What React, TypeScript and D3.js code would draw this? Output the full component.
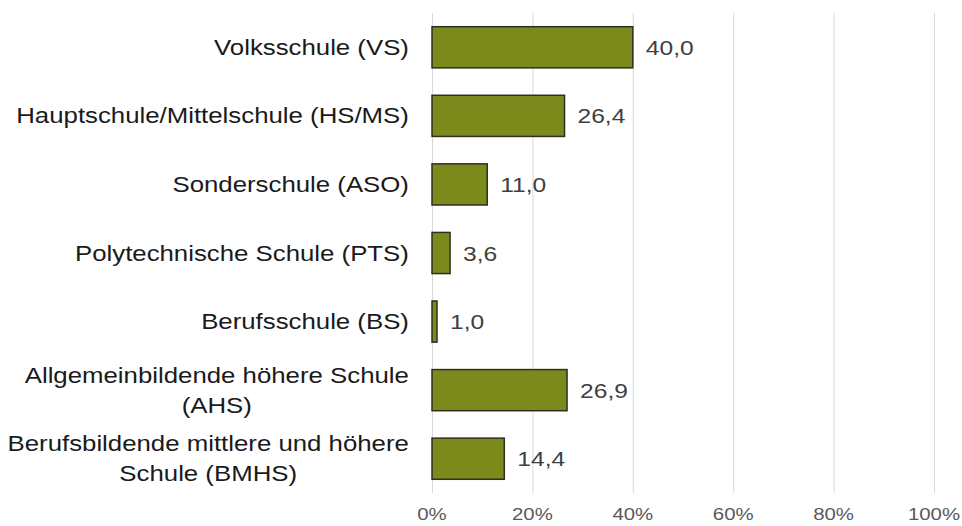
import React, { useEffect, useRef } from 'react';
import * as d3 from 'd3';

const categories: string[][] = [
  ['Volksschule (VS)'],
  ['Hauptschule/Mittelschule (HS/MS)'],
  ['Sonderschule (ASO)'],
  ['Polytechnische Schule (PTS)'],
  ['Berufsschule (BS)'],
  ['Allgemeinbildende höhere Schule', '(AHS)'],
  ['Berufsbildende mittlere und höhere', 'Schule (BMHS)'],
];
const values: number[] = [40.0, 26.4, 11.0, 3.6, 1.0, 26.9, 14.4];
const xTicks: number[] = [0, 20, 40, 60, 80, 100];

const FONT = '"Liberation Sans", Arial, sans-serif';
const SX = 1.2; // text in the source is slightly stretched horizontally

const App: React.FC = () => {
  const svgRef = useRef<SVGSVGElement>(null);
  const width = 962;
  const height = 526;

  useEffect(() => {
    if (!svgRef.current) return;
    const svg = d3.select(svgRef.current);
    svg.selectAll('*').remove();

    const plot = { left: 432, right: 934, top: 13, bottom: 493 };

    const xScale = d3.scaleLinear().domain([0, 100]).range([plot.left, plot.right]);
    const yScale = d3.scaleBand<number>()
      .domain(d3.range(values.length))
      .range([plot.top, plot.bottom])
      .paddingInner(0.4)
      .paddingOuter(0.2);

    // Grid lines
    svg.append('g')
      .selectAll('line')
      .data(xTicks)
      .join('line')
      .attr('x1', d => xScale(d) + 0.5)
      .attr('x2', d => xScale(d) + 0.5)
      .attr('y1', plot.top)
      .attr('y2', plot.bottom)
      .attr('stroke', '#d9d9d9')
      .attr('stroke-width', 1);

    // Tick labels
    svg.append('g')
      .selectAll('text')
      .data(xTicks)
      .join('text')
      .attr('transform', d => `translate(${xScale(d)},${plot.bottom + 27}) scale(${SX},1)`)
      .attr('text-anchor', 'middle')
      .style('font-family', FONT)
      .style('font-size', '17px')
      .style('fill', '#595959')
      .text(d => `${d}%`);

    // Bars
    svg.append('g')
      .selectAll('rect')
      .data(values)
      .join('rect')
      .attr('x', xScale(0))
      .attr('y', (d, i) => yScale(i)!)
      .attr('width', d => xScale(d) - xScale(0))
      .attr('height', yScale.bandwidth())
      .attr('fill', '#7c8a1c')
      .attr('stroke', '#2e2e22')
      .attr('stroke-width', 1.5);

    // Value labels
    svg.append('g')
      .selectAll('text')
      .data(values)
      .join('text')
      .attr('transform', (d, i) => `translate(${xScale(d) + 13},${yScale(i)! + yScale.bandwidth() / 2 + 7.5}) scale(${SX},1)`)
      .style('font-family', FONT)
      .style('font-size', '20.5px')
      .style('fill', '#404040')
      .text(d => d.toFixed(1).replace('.', ','));

    // Category labels (right aligned block, lines centred within)
    const labelRight = 409;
    const lineH = 30;
    categories.forEach((lines, i) => {
      const cy = yScale(i)! + yScale.bandwidth() / 2;
      const g = svg.append('g');
      const texts = g.selectAll('text')
        .data(lines)
        .join('text')
        .style('font-family', FONT)
        .style('font-size', '21.5px')
        .style('fill', '#1a1a1a')
        .attr('text-anchor', 'middle')
        .text(d => d);
      let maxW = 0;
      texts.each(function () {
        maxW = Math.max(maxW, (this as SVGTextElement).getComputedTextLength());
      });
      const cx = labelRight - (maxW * SX) / 2;
      const y0 = cy - ((lines.length - 1) * lineH) / 2 + 7.5;
      texts.attr('transform', (d, j) => `translate(${cx},${y0 + j * lineH}) scale(${SX},1)`);
    });
  }, []);

  return (
    <svg
      ref={svgRef}
      width={width}
      height={height}
      viewBox={`0 0 ${width} ${height}`}
      style={{ position: 'absolute', left: 0, top: 0, background: '#ffffff' }}
    />
  );
};

export default App;
